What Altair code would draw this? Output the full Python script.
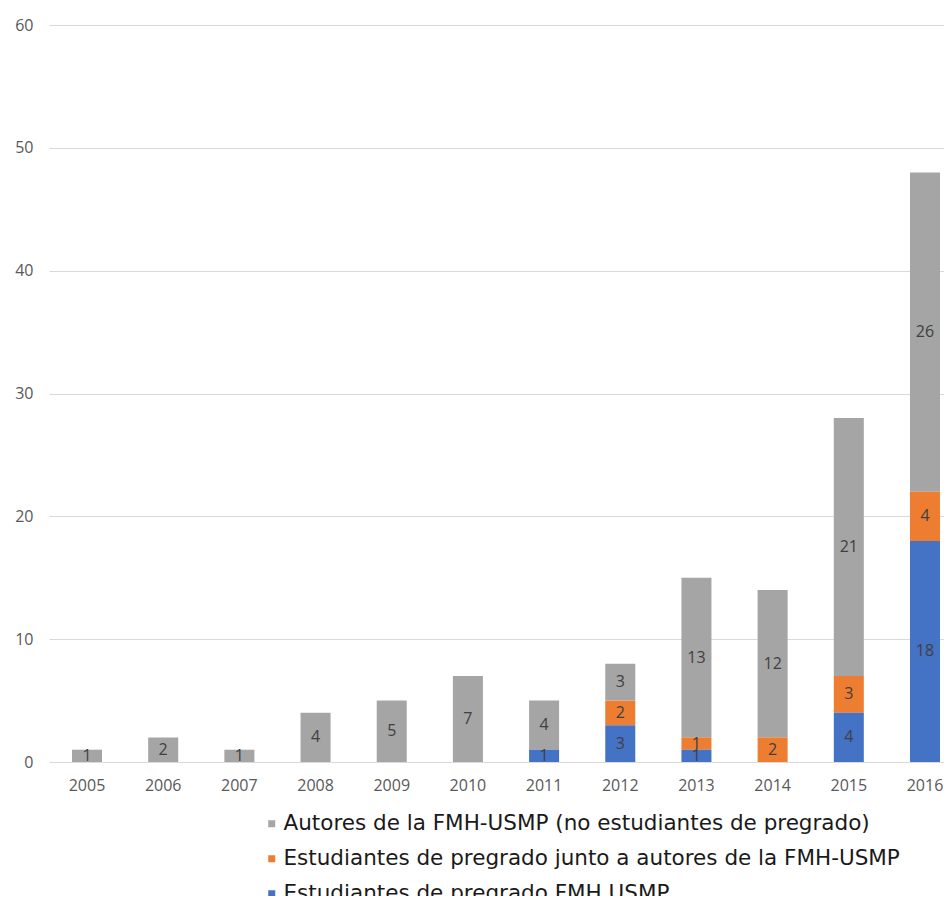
import altair as alt
import pandas as pd

years = [str(y) for y in range(2005, 2017)]
autores = [1, 2, 1, 4, 5, 7, 4, 3, 13, 12, 21, 26]
junto = [0, 0, 0, 0, 0, 0, 0, 2, 1, 2, 3, 4]
fmh = [0, 0, 0, 0, 0, 0, 1, 3, 1, 0, 4, 18]
series = [
    "Autores de la FMH-USMP (no estudiantes de pregrado)",
    "Estudiantes de pregrado junto a autores de la FMH-USMP",
    "Estudiantes de pregrado FMH USMP",
]
colors = ["#A5A5A5", "#ED7D31", "#4472C4"]
y_ticks = [0, 10, 20, 30, 40, 50, 60]

rows = []
for s_i, (name, vals) in enumerate(zip(series, [autores, junto, fmh])):
    for yr, v in zip(years, vals):
        if v > 0:
            rows.append({"year": yr, "serie": name, "value": v, "ord": 2 - s_i})
df = pd.DataFrame(rows)

base = alt.Chart(df).transform_stack(
    stack="value", groupby=["year"], as_=["y0", "y1"],
    sort=[alt.SortField("ord", order="ascending")]
).transform_calculate(mid="(datum.y0 + datum.y1) / 2")

xenc = alt.X(
    "year:N",
    scale=alt.Scale(domain=years, range=[0, 914], paddingInner=0.606, paddingOuter=0.302),
    axis=alt.Axis(title=None, labelAngle=0, domain=False, ticks=False, labelPadding=15,
                  labelFontSize=16, labelColor="#595959", labelFont="Open Sans"),
)
yscale = alt.Scale(domain=[0, 60], nice=False)

bars = base.mark_bar().encode(
    x=xenc,
    y=alt.Y("y0:Q", scale=yscale,
            axis=alt.Axis(title=None, values=y_ticks, grid=True, gridColor="#D9D9D9",
                          domain=False, ticks=False, labelPadding=16, labelFontSize=16,
                          labelColor="#595959", labelFont="Open Sans")),
    y2="y1:Q",
    color=alt.Color("serie:N", scale=alt.Scale(domain=series, range=colors),
                    legend=alt.Legend(title=None, orient="none", legendX=212, legendY=788,
                                      direction="vertical", symbolType="square",
                                      symbolSize=49, symbolStrokeWidth=0,
                                      labelFontSize=21.5, labelFont="DejaVu Sans",
                                      labelColor="#1a1a1a", labelLimit=0, rowPadding=12,
                                      labelOffset=1)),
)

labels = base.mark_text(fontSize=16, color="#404040", font="Open Sans").encode(
    x=xenc,
    y=alt.Y("mid:Q", scale=yscale),
    text="value:Q",
)

chart = alt.layer(bars, labels).properties(
    width=895, height=737,
    autosize=alt.AutoSizeParams(type="none"),
    padding={"left": 41, "top": 17, "right": 0, "bottom": 134},
).configure_view(stroke=None)

chart.save("out.html", embed_options={"renderer": "svg", "actions": False})
